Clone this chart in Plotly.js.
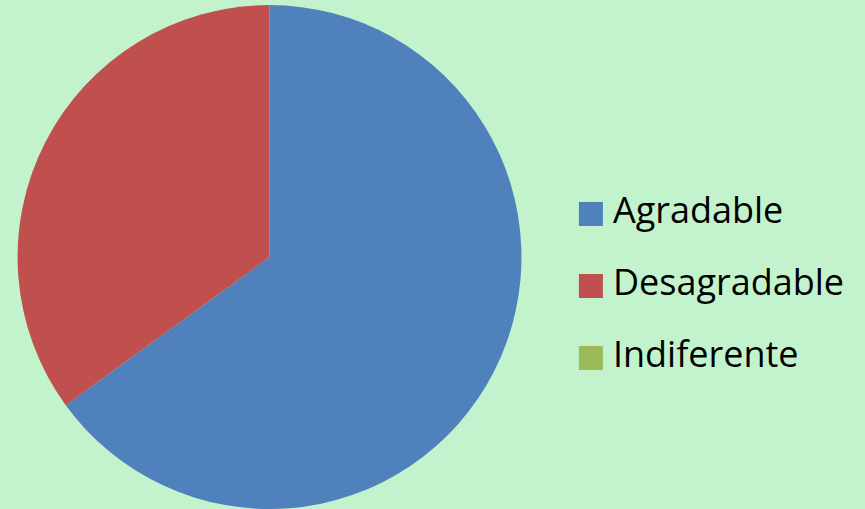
<!DOCTYPE html>
<html><head><meta charset="utf-8">
<script src="https://cdn.plot.ly/plotly-3.0.1.min.js"></script>
<style>html,body{margin:0;padding:0;background:#C3F3CD;}#chart{width:865px;height:509px;}</style>
</head><body><div id="chart"></div>
<script>
var categories = ["Agradable", "Desagradable", "Indiferente"];
var values = [65, 35, 0];
var colors = ["#4F81BD", "#C0504D", "#9BBB59"];

var trace = {
  type: "pie",
  labels: categories,
  values: values,
  marker: {colors: colors, line: {width: 0}},
  sort: false,
  direction: "clockwise",
  rotation: 0,
  textinfo: "none",
  hoverinfo: "label+percent",
  domain: {x: [0.0202, 0.603], y: [0, 0.99]},
  showlegend: true
};
var layout = {
  width: 865, height: 509,
  margin: {l: 0, r: 0, t: 0, b: 0},
  paper_bgcolor: "#C3F3CD",
  plot_bgcolor: "#C3F3CD",
  showlegend: true,
  legend: {x: 0.66, y: 0.5, xanchor: "left", yanchor: "middle",
    font: {family: "'Open Sans', sans-serif", size: 36, color: "#000"},
    bgcolor: "rgba(0,0,0,0)"}
};
Plotly.newPlot("chart", [trace], layout, {displayModeBar: false, staticPlot: true}).then(function(gd){
  var legend = gd.querySelector(".legend");
  legend.querySelectorAll("[clip-path]").forEach(function(e){ e.removeAttribute("clip-path"); });
  var items = legend.querySelectorAll(".traces");
  var targetMid = 286, gap = 72;
  items.forEach(function(g, i){
    var p = g.querySelector(".legendpoints path");
    if (p) { p.setAttribute("d", "M12,12H-12V-12H12Z"); }
    var t = g.querySelector("text.legendtext");
    if (t) {
      t.setAttribute("x", 42);
      var y = parseFloat(t.getAttribute("y") || "0");
      t.setAttribute("y", y - 5);
    }
  });
  items.forEach(function(g, i){
    var p = g.querySelector(".legendpoints path");
    var r = p.getBoundingClientRect();
    var cy = r.top + r.height / 2;
    var want = targetMid + (i - 1) * gap;
    var tr = g.getAttribute("transform") || "translate(0,0)";
    var m = /translate\(\s*([-\d.]+)[ ,]+([-\d.]+)\s*\)/.exec(tr);
    var x0 = m ? parseFloat(m[1]) : 0, y0 = m ? parseFloat(m[2]) : 0;
    g.setAttribute("transform", "translate(" + x0 + "," + (y0 + want - cy) + ")");
  });
});
</script></body></html>
